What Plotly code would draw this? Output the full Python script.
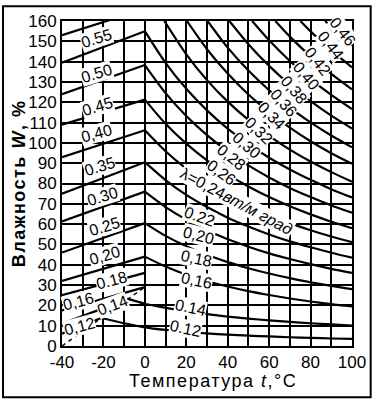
import plotly.graph_objects as go

# ---------------- axes ----------------
x_ticks = [-40, -30, -20, -10, 0, 10, 20, 30, 40, 50, 60, 70, 80, 90, 100]
x_tick_text = ["-40", "", "-20", "", "0", "", "20", "", "40", "", "60", "", "80", "", "100"]
y_ticks = [0, 10, 20, 30, 40, 50, 60, 70, 80, 90, 100, 110, 120, 130, 140, 150, 160]

# ---------------- left part (t < 0), straight lines ----------------
left_t = [-40, 0]
left_060 = [153, 166]
left_055 = [139.5, 155]
left_050 = [124, 138.3]
left_045 = [109, 121.3]
left_040 = [93, 106.2]
left_035 = [75, 90.5]
left_030 = [61.3, 76]
left_025 = [46, 60.5]
left_020 = [32, 44]
left_018 = [25, 36]
left_016 = [17.5, 29]
left_014_t = [-40, -8]
left_014 = [11, 23.2]
left_012_t = [-40, -21]
left_012 = [6, 13.8]

# dashed boundary line
dash_t = [-40, 0]
dash_w = [0, 29]

# ---------------- right part (t > 0), curves ----------------
right_t = [0, 10, 20, 30, 40, 50, 60, 70, 80, 90, 100]
r012_t = [-21, -10, 0, 10, 20, 30, 40, 50, 60, 70, 80, 90, 100]
r012 = [13.8, 11.2, 9.2, 7.9, 6.9, 6.2, 5.6, 5.1, 4.7, 4.3, 4.0, 3.7, 3.5]
r014_t = [-8, 0, 10, 20, 30, 40, 50, 60, 70, 80, 90, 100]
r014 = [23.2, 20.8, 18.8, 17.1, 15.7, 14.5, 13.5, 12.6, 11.9, 11.2, 10.6, 10.0]
r016 = [44, 39.1, 35.1, 31.9, 29.3, 27.0, 25.1, 23.4, 21.9, 20.6, 19.5]
r018 = [60.5, 54.2, 49.1, 44.9, 41.3, 38.3, 35.7, 33.4, 31.4, 29.6, 28.0]
r020 = [76, 68.4, 62.2, 57.0, 52.6, 48.9, 45.6, 42.8, 40.3, 38.0, 36.0]
r022 = [90.5, 81.7, 74.4, 68.4, 63.2, 58.8, 54.9, 51.5, 48.6, 45.9, 43.5]
r024 = [106.2, 95.9, 87.3, 80.2, 74.2, 69.0, 64.4, 60.5, 57.0, 53.9, 51.1]
r026 = [121.3, 109.4, 99.6, 91.4, 84.5, 78.5, 73.3, 68.8, 64.8, 61.2, 58.0]
r028 = [138.3, 124.5, 113.2, 103.8, 95.8, 88.9, 83.0, 77.8, 73.3, 69.2, 65.6]
r030 = [155, 139.4, 126.6, 116.0, 107.0, 99.4, 92.7, 86.9, 81.8, 77.2, 73.1]
r032_t = [9.4, 20, 30, 40, 50, 60, 70, 80, 90, 100]
r032 = [160, 143.6, 130.9, 120.3, 111.3, 103.5, 96.7, 90.8, 85.6, 80.9]
r034_t = [20.3, 30, 40, 50, 60, 70, 80, 90, 100]
r034 = [160, 146.1, 134.1, 123.8, 115.1, 107.5, 100.8, 94.9, 89.7]
r036_t = [30.3, 40, 50, 60, 70, 80, 90, 100]
r036 = [160, 146.9, 135.6, 125.9, 117.4, 110.1, 103.6, 97.8]
r038_t = [40.8, 50, 60, 70, 80, 90, 100]
r038 = [160, 148.6, 137.9, 128.6, 120.5, 113.4, 107.1]
r040_t = [51.8, 60, 70, 80, 90, 100]
r040 = [160, 150.5, 140.3, 131.4, 123.6, 116.6]
r042_t = [63, 70, 80, 90, 100]
r042 = [160, 152.3, 142.6, 134.0, 126.4]
r044_t = [75.1, 80, 90, 100]
r044 = [160, 154.9, 145.5, 137.2]
r046_t = [87, 90, 100]
r046 = [160, 157.1, 148.1]

# ---------------- labels ----------------
left_labels = ["0.55", "0.50", "0.45", "0,40", "0.35", "0.30", "0.25", "0,20", "0.18", "0,16", "0,14", "0,12"]
left_label_t = [-23.5, -23.5, -23, -23.5, -22, -20.5, -19.4, -19.4, -16.3, -32, -15.8, -31.7]
left_label_w = [151.3, 134.3, 118, 104.6, 88.6, 73.5, 58.9, 44.8, 32.4, 21.7, 20, 9.7]
right_labels = ["0,46", "0,44", "0,42", "0,40", "0,38", "0,36", "0,34", "0,32", "0,30", "0,28", "0,26",
                "0.22", "0,20", "0,18", "0,16", "0.14", "0.12"]
right_label_t = [95.4, 89.7, 83.5, 77.8, 72, 66.8, 61.1, 54.9, 49.2, 42, 37, 26.3, 26, 25, 25, 22, 19.7]
right_label_w = [154.7, 147.9, 140.1, 133.3, 126.5, 119.7, 113.4, 106, 98.8, 93, 85.5, 63.7, 54.5, 43.3, 32.1, 19, 8.8]

FONT = "Liberation Sans, Arial, sans-serif"
LINE = dict(color="black", width=2.2)

fig = go.Figure()

left_lines = [left_060, left_055, left_050, left_045, left_040, left_035, left_030,
              left_025, left_020, left_018, left_016]
for w in left_lines:
    fig.add_trace(go.Scatter(x=left_t, y=w, mode="lines", line=LINE, hoverinfo="skip"))
fig.add_trace(go.Scatter(x=left_014_t, y=left_014, mode="lines", line=LINE, hoverinfo="skip"))
fig.add_trace(go.Scatter(x=left_012_t, y=left_012, mode="lines", line=LINE, hoverinfo="skip"))
fig.add_trace(go.Scatter(x=dash_t, y=dash_w, mode="lines",
                         line=dict(color="black", width=1.4, dash="4px,4px"), hoverinfo="skip"))

right_curves = [
    (r012_t, r012), (r014_t, r014), (right_t, r016), (right_t, r018), (right_t, r020),
    (right_t, r022), (right_t, r024), (right_t, r026), (right_t, r028), (right_t, r030),
    (r032_t, r032), (r034_t, r034), (r036_t, r036), (r038_t, r038), (r040_t, r040),
    (r042_t, r042), (r044_t, r044), (r046_t, r046),
]
for tt, ww in right_curves:
    fig.add_trace(go.Scatter(x=tt, y=ww, mode="lines",
                             line=dict(color="black", width=2.2, shape="spline", smoothing=0.8),
                             hoverinfo="skip"))

annotations = []
left_angles = [-17, -17, -17, -15, -17, -17, -17, -17, -15, -15, -20, -15]
for txt, tx, wy, ang in zip(left_labels, left_label_t, left_label_w, left_angles):
    annotations.append(dict(x=tx, y=wy, xref="x", yref="y", text=txt, showarrow=False,
                            textangle=ang, bgcolor="white", borderpad=0,
                            font=dict(family=FONT, size=16, color="black")))
right_angles = [52, 52, 52, 50, 50, 48, 46, 44, 41, 39, 36, 20, 14, 12, 12, 12, 12]
for txt, tx, wy, ang in zip(right_labels, right_label_t, right_label_w, right_angles):
    annotations.append(dict(x=tx, y=wy, xref="x", yref="y", text=txt, showarrow=False,
                            textangle=ang, bgcolor="white", borderpad=0,
                            font=dict(family=FONT, size=16, color="black")))
annotations.append(dict(x=44.4, y=71, xref="x", yref="y",
                        text="λ=0,24<i>вт/м град</i>", showarrow=False, textangle=28,
                        bgcolor="white", borderpad=0,
                        font=dict(family=FONT, size=16, color="black")))
# axis titles
annotations.append(dict(x=0.522, y=-0.109, xref="paper", yref="paper",
                        xanchor="center", yanchor="middle",
                        text="<span style='letter-spacing:1.5px'>Температура <i>t</i>,°C</span>",
                        showarrow=False,
                        font=dict(family=FONT, size=18, color="black")))
annotations.append(dict(x=-0.149, y=0.5, xref="paper", yref="paper",
                        xanchor="center", yanchor="middle",
                        text="<span style='letter-spacing:1.5px'><b>Влажность <i>W</i>, %</b></span>",
                        showarrow=False, textangle=-90,
                        font=dict(family=FONT, size=18, color="black")))

fig.update_layout(
    width=378, height=400,
    margin=dict(l=62, r=21, t=17, b=54),
    paper_bgcolor="white", plot_bgcolor="white",
    showlegend=False,
    annotations=annotations,
    shapes=[dict(type="rect", xref="paper", yref="paper",
                 x0=-0.2034, x1=1.0644, y0=-0.158, y1=1.0456,
                 line=dict(color="black", width=2))],
    xaxis=dict(range=[-40, 100], tickvals=x_ticks, ticktext=x_tick_text,
               showgrid=True, gridcolor="black", gridwidth=1.5, zeroline=False,
               showline=True, linecolor="black", linewidth=2, mirror=True,
               ticks="", tickfont=dict(family=FONT, size=17, color="black")),
    yaxis=dict(range=[0, 160], tickvals=y_ticks,
               showgrid=True, gridcolor="black", gridwidth=1.5, zeroline=False,
               showline=True, linecolor="black", linewidth=2, mirror=True,
               ticks="", tickfont=dict(family=FONT, size=17, color="black")),
)

fig.write_html("out.html", config={"displayModeBar": False},
               post_script="document.body.style.margin='0px';")
